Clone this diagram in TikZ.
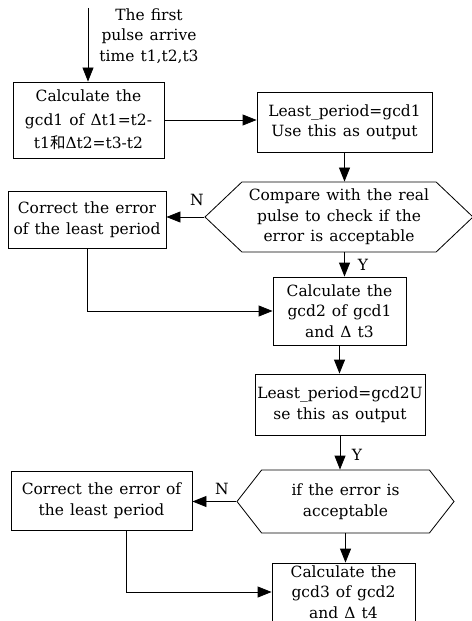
\documentclass[tikz,border=0pt]{standalone}
\usepackage{fontspec}
\setmainfont[WordSpace=1.25]{DejaVu Serif}
\newfontfamily\cjkfont{Noto Sans CJK SC}
\usepackage{tikz}
\usetikzlibrary{arrows.meta,calc,shapes.symbols}

\begin{document}
\begin{tikzpicture}[
  font=\fontsize{13.2}{17.5}\selectfont, line width=0.7pt,
  box/.style={draw, align=center, inner sep=1pt},
  hexa/.style={draw, shape=signal, signal to=west and east, align=center, inner sep=1pt},
  flow/.style={-{Triangle[length=0.42cm,width=0.33cm]}}]
\useasboundingbox (0,0) rectangle (14.13,-18.63);
\coordinate (start) at (2.64,-0.24);
\node (pulse) at (4.47,-1.08) [align=center] {The first\\pulse arrive\\time t1,t2,t3};
\node[box, minimum width=4.53cm, minimum height=2.28cm, font=\fontsize{13.2}{20}\selectfont] (gcdA) at (2.655,-3.6) {Calculate the\\gcd1 of Δt1=t2-\\t1{\cjkfont 和}Δt2=t3-t2};
\node[box, minimum width=5.25cm, minimum height=1.8cm] (outA) at (10.335,-3.66) {Least\_period=gcd1\\Use this as output};
\node[hexa, minimum width=8.04cm, minimum height=2.1cm, signal pointer angle=87] (chkA) at (10.17,-6.51) {Compare with the real\\pulse to check if the\\error is acceptable};
\node[box, minimum width=4.74cm, minimum height=1.71cm] (fixA) at (2.61,-6.585) {Correct the error\\of the least period};
\node[box, minimum width=3.99cm, minimum height=2.04cm] (gcdB) at (10.185,-9.33) {Calculate the\\gcd2 of gcd1\\and Δ t3};
\node[box, minimum width=5.1cm, minimum height=1.83cm] (outB) at (10.2,-12.135) {Least\_period=gcd2U\\se this as output};
\node[hexa, minimum width=6.51cm, minimum height=1.89cm, signal pointer angle=104] (chkB) at (10.365,-15.045) {if the error is\\acceptable};
\node[box, minimum width=5.43cm, minimum height=1.77cm] (fixB) at (3.045,-15.015) {Correct the error of\\the least period};
\node[box, minimum width=4.29cm, minimum height=1.74cm] (gcdC) at (10.305,-17.76) {Calculate the\\gcd3 of gcd2\\and Δ t4};
\node (nA) at (5.91,-6.0) {N};
\node (yA) at (10.89,-7.95) {Y};
\node (yB) at (10.71,-13.65) {Y};
\node (nB) at (6.66,-14.67) {N};
\draw[flow] (start) -- (start |- gcdA.north);
\draw[flow] (gcdA.east) -- (outA.west |- gcdA.east);
\draw[flow] (outA.south) -- (outA.south |- chkA.north);
\draw[flow] (chkA.west) -- (chkA.west -| fixA.east);
\draw[flow] (outA.south |- chkA.south) -- (outA.south |- gcdB.north);
\draw[flow] (fixA.south) |- (gcdB.west);
\draw[flow] (gcdB.south) -- (gcdB.south |- outB.north);
\draw[flow] (outB.south) -- (outB.south |- chkB.north);
\draw[flow] (chkB.west) -- (chkB.west -| fixB.east);
\draw[flow] (chkB.south) -- (chkB.south |- gcdC.north);
\draw[flow] ($(fixB.south west)!0.635!(fixB.south east)$) |- (gcdC.west);
\end{tikzpicture}
\end{document}
